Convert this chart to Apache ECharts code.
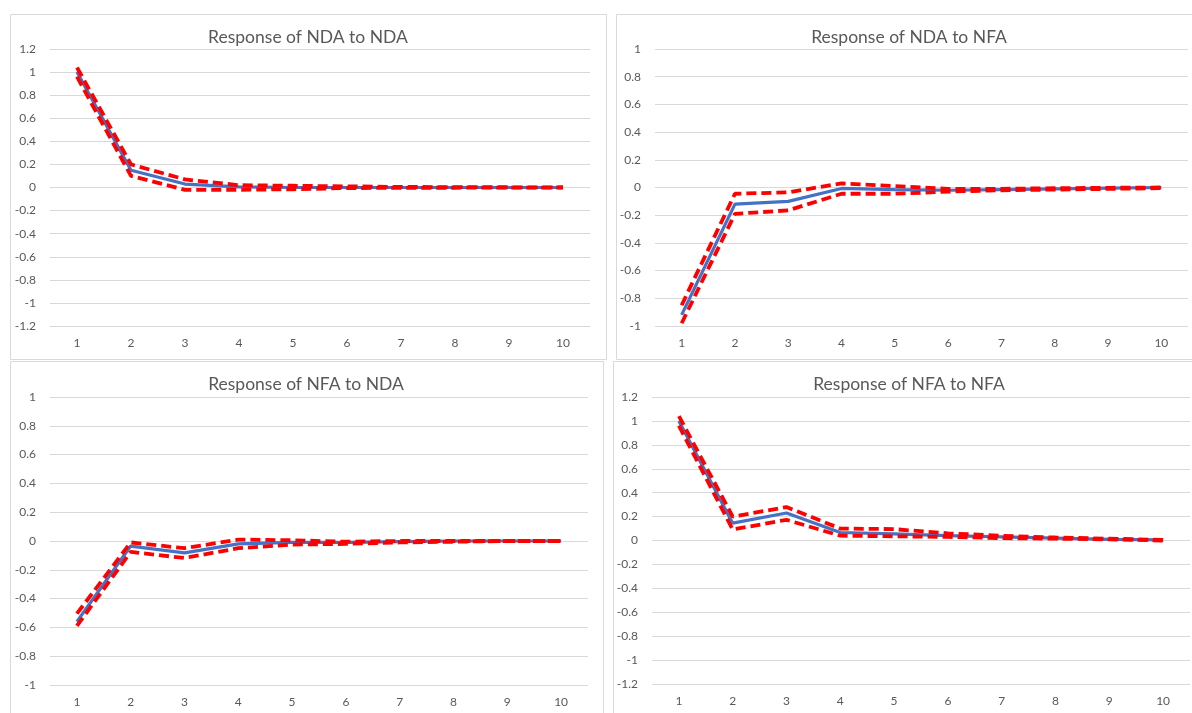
<!DOCTYPE html>
<html>
<head>
<meta charset="utf-8">
<script src="https://cdn.jsdelivr.net/npm/echarts@6/dist/echarts.min.js"></script>
<style>
  html, body { margin: 0; padding: 0; background: #ffffff; }
  #chart { width: 1192px; height: 713px; }
</style>
</head>
<body>
<div id="chart"></div>
<script>
// ---- data ----
const periods = ['1', '2', '3', '4', '5', '6', '7', '8', '9', '10'];
const titles = ['Response of NDA to NDA', 'Response of NDA to NFA', 'Response of NFA to NDA', 'Response of NFA to NFA'];

const ndaNdaMid   = [1.00, 0.15, 0.03, 0.005, 0.00, 0.00, 0.00, 0.00, 0.00, 0.00];
const ndaNdaUpper = [1.04, 0.20, 0.07, 0.02, 0.015, 0.01, 0.005, 0.003, 0.002, 0.001];
const ndaNdaLower = [0.96, 0.10, -0.02, -0.02, -0.015, -0.005, -0.003, -0.002, -0.001, 0.00];

const ndaNfaMid   = [-0.92, -0.12, -0.10, -0.007, -0.015, -0.02, -0.015, -0.01, -0.005, 0.00];
const ndaNfaUpper = [-0.85, -0.045, -0.035, 0.03, 0.01, -0.01, -0.01, -0.005, -0.002, 0.00];
const ndaNfaLower = [-0.98, -0.19, -0.165, -0.045, -0.045, -0.03, -0.02, -0.015, -0.01, -0.005];

const nfaNdaMid   = [-0.56, -0.035, -0.083, -0.02, -0.01, -0.01, -0.005, 0.00, 0.00, 0.00];
const nfaNdaUpper = [-0.505, -0.01, -0.05, 0.01, 0.005, -0.005, 0.00, 0.00, 0.00, 0.00];
const nfaNdaLower = [-0.59, -0.076, -0.118, -0.05, -0.025, -0.02, -0.01, -0.005, 0.00, 0.00];

const nfaNfaMid   = [1.00, 0.145, 0.23, 0.067, 0.056, 0.04, 0.03, 0.02, 0.01, 0.005];
const nfaNfaUpper = [1.04, 0.20, 0.28, 0.10, 0.095, 0.06, 0.04, 0.025, 0.015, 0.005];
const nfaNfaLower = [0.96, 0.092, 0.173, 0.04, 0.035, 0.03, 0.02, 0.015, 0.01, 0.00];

const yMins = [-1.2, -1, -1, -1.2];
const yMaxs = [1.2, 1, 1, 1.2];

// ---- layout ----
const grids = [
  { left: 50,  top: 49,  width: 540, height: 277 },
  { left: 655, top: 49,  width: 533, height: 277 },
  { left: 50,  top: 397, width: 538, height: 288 },
  { left: 652, top: 397, width: 538, height: 287 }
];
const titlePos = [[308, 37], [909, 37], [306, 384], [909, 384]];
const panels = [
  { x: 10.5,  y: 14.5,  w: 596, h: 345 },
  { x: 616.5, y: 14.5,  w: 600, h: 345 },
  { x: 10.5,  y: 361.5, w: 593, h: 400 },
  { x: 613.5, y: 361.5, w: 600, h: 400 }
];
const FONT = 'Lato, "Open Sans", sans-serif';
const GREY = '#595959';
const BLUE = '#4472C4';
const RED = '#FF0000';

const sets = [
  [ndaNdaMid, ndaNdaUpper, ndaNdaLower],
  [ndaNfaMid, ndaNfaUpper, ndaNfaLower],
  [nfaNdaMid, nfaNdaUpper, nfaNdaLower],
  [nfaNfaMid, nfaNfaUpper, nfaNfaLower]
];

const xAxis = [], yAxis = [], series = [];
grids.forEach((g, i) => {
  xAxis.push({
    type: 'category', gridIndex: i, data: periods, boundaryGap: true,
    axisLine: { show: false }, axisTick: { show: false },
    axisLabel: { color: GREY, fontFamily: FONT, fontSize: 12, margin: 11 }
  });
  yAxis.push({
    type: 'value', gridIndex: i, min: yMins[i], max: yMaxs[i], interval: 0.2,
    axisLine: { show: false }, axisTick: { show: false },
    axisLabel: { color: GREY, fontFamily: FONT, fontSize: 12, margin: 14,
      formatter: v => String(Math.round(v * 10) / 10) },
    splitLine: { lineStyle: { color: '#D9D9D9', width: 1 } }
  });
  const [mid, up, lo] = sets[i];
  series.push({
    type: 'line', xAxisIndex: i, yAxisIndex: i, data: mid, symbol: 'none',
    lineStyle: { color: BLUE, width: 3.2 }, z: 2
  });
  [up, lo].forEach(arr => {
    series.push({
      type: 'line', xAxisIndex: i, yAxisIndex: i, data: arr, symbol: 'none',
      lineStyle: { color: RED, width: 3.8, type: [10, 5], cap: 'butt' }, z: 3
    });
  });
});

const graphic = [];
panels.forEach(p => graphic.push({
  type: 'rect', shape: { x: p.x, y: p.y, width: p.w, height: p.h },
  style: { fill: 'none', stroke: '#D9D9D9', lineWidth: 1 }, z: -1, silent: true
}));
titles.forEach((t, i) => graphic.push({
  type: 'text', x: titlePos[i][0], y: titlePos[i][1],
  style: { text: t, fill: GREY, font: '17.5px ' + FONT, textAlign: 'center', textVerticalAlign: 'middle' }
}));

const chart = echarts.init(document.getElementById('chart'), null, { renderer: 'canvas' });
chart.setOption({
  animation: false,
  backgroundColor: '#ffffff',
  grid: grids,
  xAxis, yAxis, series, graphic
});
</script>
</body>
</html>
